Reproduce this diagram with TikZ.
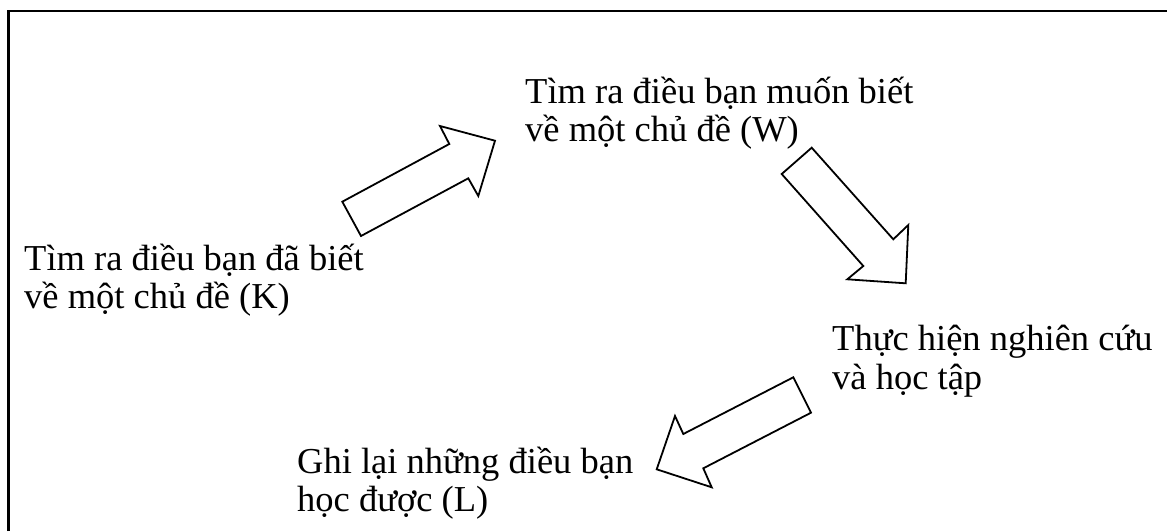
\documentclass[tikz,border=0pt]{standalone}
\usepackage{fontspec}
\setmainfont{Liberation Serif}
\usetikzlibrary{positioning}
\tikzset{phase/.style = {anchor = base west, align = left, inner sep = 0pt,
                         font = \fontsize{36.5}{38.5}\selectfont},
         blockarrow/.style = {draw, line width = 1.8pt, line join = miter, fill = white},
         frame/.style = {draw, line width = 2.4pt}}
\begin{document}
\begin{tikzpicture}[x=1pt, y=-1pt]
      \useasboundingbox (0, 0) rectangle (1167, 531);
      \draw [frame] (8.3, 531) |- (1167, 11.2);

      % base anchor sits on the last line
      \node [phase] (know) at (24, 308.5) {Tìm ra điều bạn đã biết\\về một chủ đề (K)};
      \node [phase] (want) at (525, 141.5) {Tìm ra điều bạn muốn biết\\về một chủ đề (W)};
      \node [phase] (act) at (832, 389) {Thực hiện nghiên cứu\\và học tập};
      \node [phase] (record) at (297, 511.5) {Ghi lại những điều bạn\\học được (L)};

      % K -> W
      \draw [blockarrow] (342.3, 201.7) -- (449.3, 144) -- (440, 126) --
        (495, 140.7) -- (478.3, 196) -- (468.3, 178.3) -- (361, 236) -- cycle;
      % W -> research
      \draw [blockarrow] (811.7, 147.7) -- (893.3, 239.3) -- (908.3, 225) --
        (905.7, 283.3) -- (847.3, 279.3) -- (863.3, 266) -- (781.7, 174) -- cycle;
      % research -> L
      \draw [blockarrow] (811, 412.7) -- (703.3, 468.3) -- (711.7, 487.3) --
        (656.7, 469.3) -- (675, 416) -- (683.3, 434) -- (793.3, 377.3) -- cycle;
\end{tikzpicture}
\end{document}
